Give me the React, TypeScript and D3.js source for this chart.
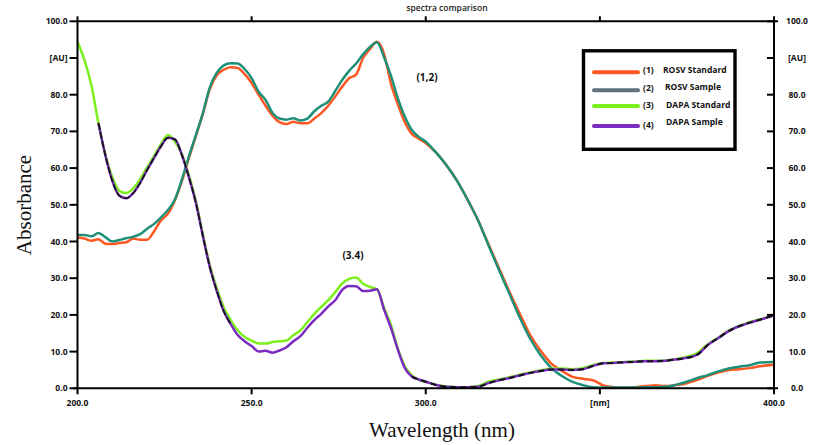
import React from "react";
import * as d3 from "d3";

// Wavelength grid (nm)
const wavelengths = [
  200, 202, 204, 206, 208, 210, 212, 214, 216, 218, 220, 222, 224, 226, 228, 230, 232, 234, 236, 238,
  240, 242, 244, 246, 248, 250, 252, 254, 256, 258, 260, 262, 264, 266, 268, 270, 272, 274, 276, 278,
  280, 282, 284, 286, 288, 290, 292, 294, 296, 298, 300,
  303, 306, 309, 312, 315, 318, 321, 324, 327, 330, 333, 336, 339, 342, 345, 348, 351, 354, 357, 360,
  363, 366, 369, 372, 375, 378, 381, 384, 387, 390, 393, 396, 400,
];

const rosvStandard = [
  41.1, 40.8, 40.2, 40.6, 39.4, 39.3, 39.6, 39.8, 40.8, 40.5, 40.5, 42.8, 45.8, 47.6, 51.3, 56.5, 62.8, 68.8, 74.8, 81.5,
  85.3, 86.8, 87.5, 87.3, 85.6, 83.2, 80, 77, 74.3, 72.5, 72, 72.6, 72.2, 72.2, 73.5, 75, 77, 79.5, 82.2, 84.5,
  85.5, 90, 92.5, 94.4, 91.2, 83, 77.4, 72.5, 69.3, 68, 66.8,
  64.2, 60.7, 56.5, 51.4, 45.8, 39.3, 32.8, 26.4, 20.3, 14.5, 10.2, 6.8, 4.8, 3.2, 2.6, 2.2, 0.8, 0.3, 0.2, 0.3,
  0.6, 0.8, 0.6, 0.9, 1.4, 2.3, 3.4, 4.3, 5, 5.2, 5.5, 6, 6.4,
];

const rosvSample = [
  41.8, 41.8, 41.4, 42.3, 41.2, 40, 40.4, 40.9, 41.3, 42, 43.5, 44.8, 46.6, 48.6, 51.5, 57, 63.2, 69, 75, 82,
  86, 88, 88.6, 88.5, 87, 84.5, 80.8, 78.6, 75, 73.5, 73.2, 73.6, 73, 73.5, 75.5, 77, 78.1, 81, 84, 86.5,
  88.5, 91, 93, 94.3, 90.3, 85.2, 79, 74, 70.4, 68.5, 67.2,
  64.2, 60.7, 56.5, 51.4, 45.8, 39.0, 32.3, 25.8, 19.3, 13.5, 9, 5.6, 3.4, 1.8, 0.9, 0.3, 0.2, 0.2, 0.2, 0.2,
  0.3, 0.3, 0.4, 1.0, 1.8, 2.8, 3.6, 4.6, 5.4, 5.9, 6.3, 7, 7.2,
];

const dapaStandard = [
  94.4, 89.4, 82.5, 72.3, 63.7, 57.5, 53.8, 53.2, 54.5, 57, 60.2, 63.3, 66.6, 69, 67.2, 63.8, 58, 51, 42, 33.5,
  27.3, 22, 18.6, 15.8, 14, 13, 12.2, 12.2, 12.6, 12.8, 13, 14.5, 15.8, 18, 20.3, 22.2, 24, 26.2, 28.6, 29.8,
  30.2, 28.5, 27.6, 27, 22, 17.3, 10.8, 6, 3.5, 2.3, 1.8,
  1, 0.5, 0.3, 0.3, 0.6, 1.8, 2.4, 3, 3.7, 4.3, 4.9, 5.3, 5.4, 5.2, 5.5, 6.3, 6.9, 7.0, 7.2, 7.3,
  7.5, 7.5, 7.6, 8, 8.6, 9.6, 12, 13.8, 15.7, 17, 18, 18.8, 20,
];

const dapaSample: (number | null)[] = [
  null, null, null, 72.3, 63.5, 56.5, 52.5, 51.8, 53.2, 56, 59.5, 62.8, 66, 68.3, 67.8, 63.5, 57.5, 50.5, 41.5, 33,
  26.5, 21, 17.5, 14.5, 12.8, 11.5, 10, 10.2, 9.7, 10.3, 11.2, 12.8, 14.2, 16.5, 18.6, 20.3, 22.3, 24, 26.8, 27.9,
  27.8, 26.5, 26.6, 27, 21.5, 16.5, 10.5, 5.5, 3.2, 2.4, 1.8,
  0.9, 0.4, 0.3, 0.3, 0.4, 1.4, 2.2, 2.8, 3.5, 4.2, 4.7, 5.1, 5.1, 5.0, 5.2, 6.1, 6.8, 6.9, 7.1, 7.2,
  7.4, 7.4, 7.5, 7.9, 8.3, 9.2, 11.8, 13.7, 15.6, 16.9, 17.9, 18.7, 19.9,
];

const yTicks = [0, 10, 20, 30, 40, 50, 60, 70, 80, 90, 100];
const yTickLabels = ["0.0", "10.0", "20.0", "30.0", "40.0", "50.0", "60.0", "70.0", "80.0", "[AU]", "100.0"];
const xTicks = [200, 250, 300, 350, 400];
const xTickLabels = ["200.0", "250.0", "300.0", "[nm]", "400.0"];

const legendNums = ["(1)", "(2)", "(3)", "(4)"];
const legendNames = ["ROSV Standard", "ROSV Sample", "DAPA Standard", "DAPA Sample"];

const ORANGE = "#ff5722";
const TEAL = "#1f9077";
const GREEN = "#7cf01c";
const PURPLE = "#7a2cc0";
const legendColors = [ORANGE, "#5e717c", GREEN, PURPLE];

const W = 813;
const H = 445;

export default function App() {
  const x = d3.scaleLinear().domain([200, 400]).range([77.5, 774]);
  const y = d3.scaleLinear().domain([0, 100]).range([388.3, 21.3]);

  const mk = (vals: (number | null)[], lo = 0, hi = 1000) =>
    d3
      .line<number>()
      .defined((i) => vals[i] != null && wavelengths[i] >= lo && wavelengths[i] <= hi)
      .x((i) => x(wavelengths[i]))
      .y((i) => y(vals[i] as number))
      .curve(d3.curveMonotoneX)(wavelengths.map((_, i) => i)) || "";

  const font = "'Open Sans', 'DejaVu Sans', sans-serif";
  const x0 = x(200);
  const x1 = x(400);
  const yb = y(0);
  const yt = y(100);

  return (
    <svg
      width={W}
      height={H}
      style={{ position: "absolute", left: 0, top: 0, background: "#fff" }}
    >
      <rect x={0} y={0} width={W} height={H} fill="#fff" />
      {/* title */}
      <text x={447} y={11} textAnchor="middle" fontFamily={font} fontSize={8.5} fontWeight={600} fill="#222">
        spectra comparison
      </text>

      {/* curves */}
      <path d={mk(rosvStandard)} fill="none" stroke={ORANGE} strokeWidth={2.5} />
      <path d={mk(rosvSample)} fill="none" stroke={TEAL} strokeWidth={2.5} />
      <path d={mk(dapaStandard)} fill="none" stroke={GREEN} strokeWidth={2.5} />
      <path d={mk(dapaSample)} fill="none" stroke={PURPLE} strokeWidth={2.5} />
      <path d={mk(dapaSample, 205, 244)} fill="none" stroke="#111" strokeWidth={1.6} strokeDasharray="7,2" />
      <path d={mk(dapaSample, 296, 400)} fill="none" stroke="#111" strokeWidth={2} strokeDasharray="6,4" />

      {/* axes lines */}
      <line x1={x0} x2={x0} y1={yt} y2={yb} stroke="#000" strokeWidth={2} />
      <line x1={x1} x2={x1} y1={yt} y2={yb + 5} stroke="#000" strokeWidth={2} />
      <line x1={x0 - 4} x2={x1 + 4} y1={yb} y2={yb} stroke="#000" strokeWidth={2} />
      <line x1={x0} x2={x1 + 4} y1={yt} y2={yt} stroke="#000" strokeWidth={2} />

      {/* y ticks left & right */}
      {yTicks.map((t, i) => (
        <g key={"y" + t}>
          <line x1={x0 - 8} x2={x0} y1={y(t)} y2={y(t)} stroke="#000" strokeWidth={2} />
          <text x={x0 - 10} y={y(t) + 3} textAnchor="end" fontFamily={font} fontSize={8.5} fontWeight={700} fill="#111">
            {yTickLabels[i]}
          </text>
          <line x1={x1 - 7} x2={x1} y1={y(t)} y2={y(t)} stroke="#000" strokeWidth={2} />
          <text x={x1 + 23} y={y(t) + 3} textAnchor="middle" fontFamily={font} fontSize={8.5} fontWeight={700} fill="#111">
            {yTickLabels[i]}
          </text>
        </g>
      ))}

      {/* x ticks bottom & top */}
      {xTicks.map((t, i) => (
        <g key={"x" + t}>
          <line x1={x(t)} x2={x(t)} y1={yb} y2={yb + 6} stroke="#000" strokeWidth={2} />
          <line x1={x(t)} x2={x(t)} y1={yt - 5} y2={yt} stroke="#000" strokeWidth={2} />
          <text x={x(t)} y={yb + 18} textAnchor="middle" fontFamily={font} fontSize={8.5} fontWeight={700} fill="#111">
            {xTickLabels[i]}
          </text>
        </g>
      ))}

      {/* annotations */}
      <text x={427} y={81} textAnchor="middle" fontFamily={font} fontSize={10} fontWeight={700} fill="#111">
        (1,2)
      </text>
      <text x={353} y={259} textAnchor="middle" fontFamily={font} fontSize={10} fontWeight={700} fill="#111">
        (3.4)
      </text>

      {/* legend */}
      <rect x={583.5} y={50.8} width={151.5} height={98.5} fill="#fff" stroke="#000" strokeWidth={3.4} />
      {legendNames.map((n, i) => {
        const ly = [72.3, 90.3, 106, 126][i];
        return (
          <g key={n}>
            <line x1={594} x2={638} y1={ly} y2={ly} stroke={legendColors[i]} strokeWidth={4} strokeLinecap="round" />
            <text x={643} y={[73, 91, 107.5, 127.5][i]} fontFamily={font} fontSize={8.5} fontWeight={700} fill="#111">
              {legendNums[i]}
            </text>
            <text x={[663, 665, 666, 666][i]} y={[73, 90, 107.5, 125][i]} fontFamily={font} fontSize={8.5} fontWeight={700} fill="#111">
              {n}
            </text>
          </g>
        );
      })}

      {/* axis titles */}
      <text x={442} y={437} textAnchor="middle" fontFamily="'Liberation Serif', 'Times New Roman', serif" fontSize={21} fill="#111">
        Wavelength (nm)
      </text>
      <text
        transform={`translate(31,205) rotate(-90)`}
        textAnchor="middle"
        fontFamily="'Liberation Serif', 'Times New Roman', serif"
        fontSize={21}
        fill="#111"
      >
        Absorbance
      </text>
    </svg>
  );
}
